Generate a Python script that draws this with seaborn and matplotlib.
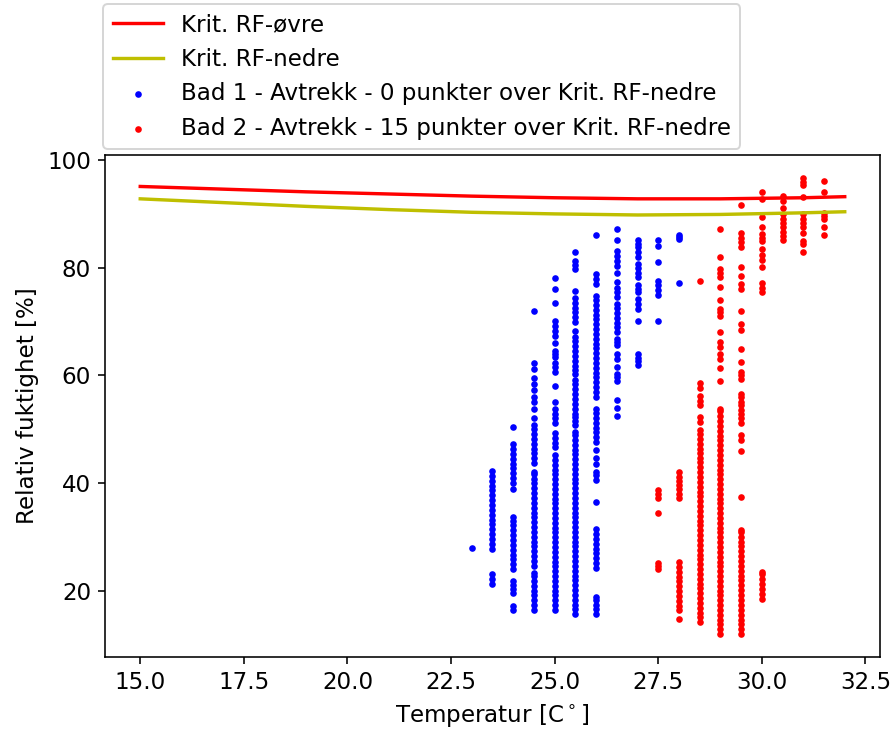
import matplotlib
matplotlib.use("Agg")
import matplotlib.pyplot as plt
import seaborn as sns
import pandas as pd

# Critical RH curves
crit_temp = [15, 17, 19, 21, 23, 25, 27, 29, 31, 32]
crit_upper = [95.1, 94.6, 94.1, 93.7, 93.3, 93.0, 92.8, 92.8, 93.0, 93.2]
crit_lower = [92.8, 92.1, 91.4, 90.8, 90.3, 90.0, 89.8, 89.9, 90.2, 90.4]

# Bad 1 (blue) – relative humidity readings per temperature column
b1_230 = [27.9]
b1_235 = [21.3, 22.2, 23.1, 27.8, 28.7, 29.6, 30.5, 31.4, 32.3, 33.2, 34.1, 35.0, 35.9, 36.8,
          37.7, 38.6, 39.5, 40.4, 41.3, 42.2]
b1_240 = [16.4, 17.2, 19.5, 20.3, 21.1, 21.7, 24.0, 24.9, 25.8, 26.7, 27.6, 28.5, 29.4, 30.3,
          31.2, 32.1, 33.0, 33.7, 38.9, 40.0, 40.9, 41.8, 42.7, 43.6, 44.5, 45.4, 46.3, 47.2, 50.4]
b1_245 = [16.4, 17.3, 18.2, 19.1, 20.0, 20.9, 21.8, 22.7, 23.2, 24.6, 25.5, 26.4, 27.3, 28.2,
          29.1, 30.0, 30.9, 31.8, 32.7, 33.6, 34.5, 35.4, 36.3, 37.2, 38.1, 39.0, 39.9, 40.8,
          41.7, 42.1, 43.7, 44.6, 45.5, 46.4, 47.3, 48.2, 49.1, 50.0, 50.8, 52.1, 53.8, 55.1,
          56.0, 57.2, 58.4, 59.5, 61.1, 62.3, 72.0]
b1_250 = [16.4, 17.3, 18.2, 19.1, 20.0, 20.9, 21.8, 22.7, 23.6, 24.5, 25.4, 26.3, 27.2, 28.1,
          29.0, 29.9, 30.8, 31.7, 32.6, 33.5, 34.4, 35.3, 36.2, 37.1, 38.0, 38.9, 39.8, 40.7,
          41.6, 42.5, 43.4, 44.3, 45.2, 46.7, 47.5, 48.4, 49.2, 51.1, 52.0, 52.9, 53.8, 55.1,
          58.0, 60.7, 61.5, 62.3, 63.4, 64.0, 64.6, 66.0, 67.4, 68.3, 69.2, 70.1, 73.5, 76.1, 78.0]
b1_255 = [15.6, 16.5, 17.4, 18.3, 19.2, 20.1, 21.0, 21.9, 22.8, 23.7, 24.6, 25.5, 26.4, 27.3,
          28.2, 29.1, 30.0, 30.9, 31.8, 32.7, 33.6, 34.5, 35.4, 36.3, 37.2, 38.1, 39.0, 39.9,
          40.8, 41.7, 42.6, 43.5, 44.4, 45.3, 46.2, 47.1, 48.0, 48.9, 49.4, 50.7, 51.6, 52.3,
          52.9, 53.8, 54.7, 55.6, 56.5, 57.4, 58.3, 59.2, 60.3, 60.9, 61.8, 62.7, 63.6, 64.5,
          65.4, 66.3, 67.2, 68.3, 69.9, 70.8, 71.7, 72.6, 73.5, 74.4, 75.7, 79.8, 80.5, 81.3, 83.0]
b1_260 = [15.6, 16.5, 17.4, 18.3, 18.9, 24.2, 25.1, 26.0, 26.9, 27.8, 28.7, 29.6, 30.5, 31.4,
          36.4, 40.6, 41.4, 42.1, 43.6, 44.6, 46.1, 47.6, 48.5, 49.4, 50.3, 51.2, 52.1, 53.0,
          53.8, 56.0, 56.9, 57.8, 58.7, 59.6, 60.5, 61.4, 62.3, 63.2, 64.1, 65.0, 65.9, 66.8,
          67.7, 68.6, 69.5, 70.4, 71.3, 72.2, 73.1, 74.0, 74.8, 77.0, 77.9, 78.8, 86.1]
b1_265 = [52.5, 54.0, 55.5, 58.9, 59.6, 60.2, 61.5, 63.1, 64.0, 65.7, 66.2, 66.8, 68.0, 68.9,
          69.8, 70.7, 71.6, 72.5, 73.3, 74.5, 75.4, 76.3, 77.3, 79.0, 80.4, 81.3, 82.2, 83.1,
          85.1, 87.2]
b1_270 = [61.9, 62.6, 63.3, 64.0, 70.1, 72.4, 73.3, 74.2, 75.4, 76.0, 76.7, 78.2, 79.0, 79.9,
          80.7, 81.9, 82.9, 83.8, 84.4, 85.1]
b1_275 = [70.1, 75.0, 75.9, 76.8, 77.6, 81.1, 84.1, 85.1]
b1_280 = [77.1, 85.3, 85.7, 86.1]

# Bad 2 (red)
b2_275 = [24.0, 24.5, 25.1, 34.4, 37.2, 37.9, 38.7]
b2_280 = [14.8, 16.3, 17.2, 18.1, 19.0, 19.9, 20.8, 21.7, 22.6, 23.5, 24.4, 25.3, 37.2, 38.0,
          38.8, 39.6, 40.4, 41.2, 42.0]
b2_285 = [14.1, 15.0, 15.9, 16.8, 17.7, 18.6, 19.5, 20.4, 21.3, 22.2, 23.1, 24.0, 24.9, 25.8,
          26.7, 27.6, 28.5, 29.4, 30.3, 31.2, 32.1, 33.0, 33.9, 34.8, 35.7, 36.6, 37.5, 38.4,
          39.3, 40.2, 41.1, 42.0, 42.9, 43.9, 44.6, 45.5, 46.4, 47.3, 48.2, 49.1, 49.8, 51.4,
          52.3, 54.4, 55.3, 56.2, 57.6, 58.5, 77.5]
b2_290 = [11.9, 12.8, 13.7, 14.6, 15.5, 16.4, 17.3, 18.2, 19.1, 20.0, 20.9, 21.8, 22.7, 23.6,
          24.5, 25.4, 26.3, 27.2, 28.1, 29.0, 29.9, 30.8, 31.7, 32.6, 33.5, 34.4, 35.3, 36.2,
          37.1, 38.0, 38.9, 39.8, 40.7, 41.6, 42.5, 43.4, 44.3, 45.2, 46.1, 47.0, 47.9, 48.8,
          49.7, 50.6, 51.5, 52.4, 53.3, 53.8, 58.9, 61.4, 63.1, 64.0, 65.2, 66.2, 68.0, 71.1,
          71.8, 72.4, 74.0, 76.5, 78.2, 79.0, 79.8, 82.0, 87.2]
b2_295 = [11.9, 12.8, 13.7, 14.6, 15.5, 16.4, 17.4, 18.3, 19.2, 20.1, 21.0, 21.9, 22.8, 23.7,
          24.6, 25.5, 26.4, 27.3, 28.2, 29.1, 30.0, 30.9, 31.2, 37.4, 45.9, 48.0, 48.9, 51.1,
          52.0, 52.9, 53.5, 54.4, 55.1, 55.9, 56.6, 59.4, 60.0, 60.6, 62.5, 64.9, 68.5, 69.6,
          72.0, 76.1, 77.0, 78.5, 80.1, 83.8, 84.7, 85.6, 86.5, 91.6]
b2_300 = [18.5, 19.4, 20.3, 21.2, 22.1, 23.0, 23.4, 75.4, 76.2, 77.1, 80.1, 81.4, 82.4, 83.5,
          85.0, 85.6, 86.2, 87.6, 89.4, 92.7, 94.1]
b2_305 = [85.1, 85.9, 86.7, 87.5, 88.3, 89.1, 89.9, 91.1, 92.4, 93.3]
b2_310 = [83.0, 84.4, 85.0, 86.5, 87.5, 88.3, 89.1, 89.9, 93.1, 95.4, 96.0, 96.7]
b2_315 = [86.1, 87.5, 89.0, 89.6, 90.2, 94.1, 96.1]

bad1_temps = [23.0, 23.5, 24.0, 24.5, 25.0, 25.5, 26.0, 26.5, 27.0, 27.5, 28.0]
bad1_cols = [b1_230, b1_235, b1_240, b1_245, b1_250, b1_255, b1_260, b1_265, b1_270, b1_275, b1_280]
bad2_temps = [27.5, 28.0, 28.5, 29.0, 29.5, 30.0, 30.5, 31.0, 31.5]
bad2_cols = [b2_275, b2_280, b2_285, b2_290, b2_295, b2_300, b2_305, b2_310, b2_315]

label_upper = "Krit. RF-øvre"
label_lower = "Krit. RF-nedre"
label_b1 = "Bad 1 - Avtrekk - 0 punkter over Krit. RF-nedre"
label_b2 = "Bad 2 - Avtrekk - 15 punkter over Krit. RF-nedre"


def to_frame(temps, cols):
    rows = [(t, v) for t, col in zip(temps, cols) for v in col]
    return pd.DataFrame(rows, columns=["T", "RH"])


df1 = to_frame(bad1_temps, bad1_cols)
df2 = to_frame(bad2_temps, bad2_cols)
dfc = pd.DataFrame({"T": crit_temp, "up": crit_upper, "low": crit_lower})

plt.rcParams["font.size"] = 11.5
fig = plt.figure(figsize=(893 / 144, 733 / 144), dpi=144)
ax = fig.add_axes([0.1176, 0.1037, 0.8678, 0.6848])

sns.lineplot(data=dfc, x="T", y="up", color="r", linewidth=1.7, ax=ax, label=label_upper)
sns.lineplot(data=dfc, x="T", y="low", color="#bfbf00", linewidth=1.7, ax=ax, label=label_lower)
sns.scatterplot(data=df1, x="T", y="RH", color="b", s=11, linewidth=0, ax=ax, label=label_b1)
sns.scatterplot(data=df2, x="T", y="RH", color="r", s=11, linewidth=0, ax=ax, label=label_b2)

ax.set_xlabel("Temperatur [C$^\\circ$]")
ax.set_ylabel("Relativ fuktighet [%]")
ax.legend(loc="lower left", bbox_to_anchor=(-0.002, 1.012), borderaxespad=0,
          labelspacing=0.5, handlelength=2.17)

fig.savefig("out.png", dpi=144)
